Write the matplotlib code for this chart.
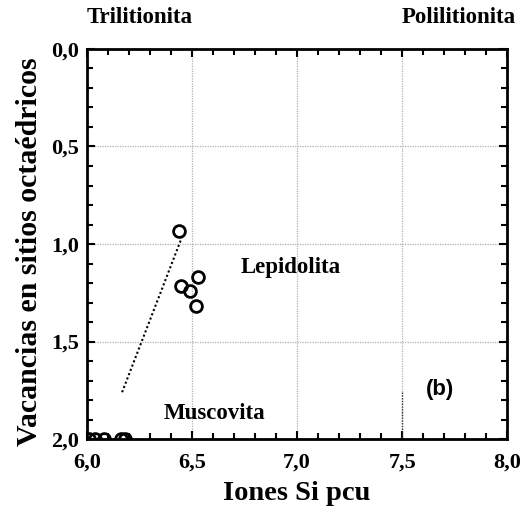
import matplotlib.pyplot as plt
from matplotlib.ticker import MultipleLocator, FuncFormatter

# Data
si_lepido = [6.44, 6.445, 6.49, 6.53, 6.52]
vac_lepido = [0.935, 1.215, 1.24, 1.17, 1.32]
si_musc = [6.01, 6.04, 6.08, 6.16, 6.18]
vac_musc = [2.0, 2.0, 2.0, 2.0, 2.0]
trend_x = [6.167, 6.45]
trend_y = [1.76, 0.97]
limit_x = [7.5, 7.5]
limit_y = [1.76, 2.0]

serif = "Liberation Serif"
plt.rcParams["font.family"] = serif
plt.rcParams["font.weight"] = "bold"

fig = plt.figure(figsize=(5.22, 5.13), dpi=100)
ax = fig.add_axes([0.1667, 0.1442, 0.805, 0.7603])

ax.set_xlim(6.0, 8.0)
ax.set_ylim(2.0, 0.0)

ax.grid(True, which="major", color="#b0b0b0", linestyle=(0, (1, 1)), linewidth=0.9)
ax.set_axisbelow(True)

ax.plot(trend_x, trend_y, color="black", linestyle=(0, (1, 1.2)), linewidth=1.5)
ax.plot(limit_x, limit_y, color="#333333", linestyle=(0, (1, 1)), linewidth=1.0)

ax.plot(si_lepido, vac_lepido, "o", markerfacecolor="none", markeredgecolor="black",
        markersize=8.5, markeredgewidth=2)
ax.plot(si_musc, vac_musc, "o", markerfacecolor="none", markeredgecolor="black",
        markersize=8.5, markeredgewidth=2)

ax.xaxis.set_major_locator(MultipleLocator(0.5))
ax.xaxis.set_minor_locator(MultipleLocator(0.1))
ax.yaxis.set_major_locator(MultipleLocator(0.5))
ax.yaxis.set_minor_locator(MultipleLocator(0.1))
comma = FuncFormatter(lambda v, p: f"{v:.1f}".replace(".", ","))
ax.xaxis.set_major_formatter(comma)
ax.yaxis.set_major_formatter(comma)

ax.tick_params(which="both", direction="in", top=True, right=True, width=1.5)
ax.tick_params(which="major", length=6, pad=6, labelsize=16)
ax.tick_params(axis="x", which="major", pad=10)
ax.tick_params(which="minor", length=4)
for s in ax.spines.values():
    s.set_linewidth(2)

ax.set_xlabel("Iones Si pcu", fontweight="bold", fontsize=20.5, labelpad=6)
ax.set_ylabel("Vacancias en sitios octaédricos", fontweight="bold", fontsize=21.5, labelpad=6)
ax.yaxis.set_label_coords(-0.105, 0.48)

txt = dict(fontweight="bold", fontsize=16.5, ha="center", va="center")
ax.text(6.25, 1.08, "Trilitionita", transform=ax.get_xaxis_transform(), **txt)
ax.text(7.77, 1.08, "Polilitionita", transform=ax.get_xaxis_transform(), **txt)
ax.text(6.97, 1.12, "Lepidolita", **txt)
ax.text(6.605, 1.87, "Muscovita", **txt)
ax.text(7.68, 1.745, "(b)", fontfamily="Liberation Sans", fontweight="bold", fontsize=16,
        ha="center", va="center")

fig.savefig("out.png", dpi=100)
